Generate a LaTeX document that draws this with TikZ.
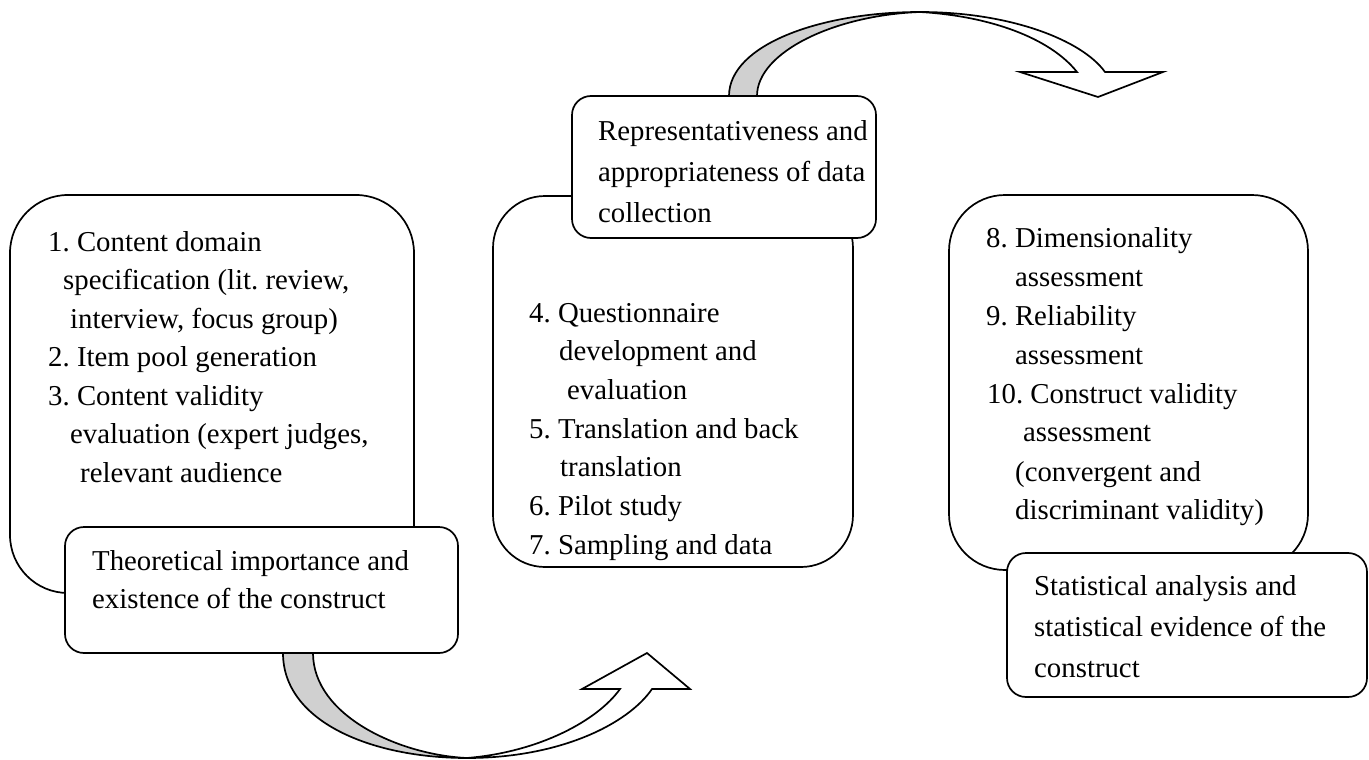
\documentclass[tikz,border=0pt]{standalone}
\usepackage{fontspec}
\setmainfont{Liberation Serif}
\definecolor{bandgray}{RGB}{208,208,208}
% stacked lines with a fixed baseline distance; the block's baseline is its first line
\newcommand\linestack[2]{\vtop{\baselineskip=#1\relax\lineskiplimit=-60pt\lineskip=0pt #2}}
\begin{document}
\frenchspacing
\begin{tikzpicture}[x=1pt,y=-1pt,
  box/.style={draw, line width=1.7pt, fill=white, rectangle, inner sep=0pt},
  bigbox/.style={box, rounded corners=58pt},
  smallbox/.style={box, rounded corners=19pt},
  txt/.style={anchor=base west, inner sep=0pt, font=\fontsize{28.8}{38.6}\selectfont},
  band/.style={draw, line width=1.7pt, fill=bandgray, line join=round},
  arrowbody/.style={draw, line width=1.7pt, fill=white, line join=miter}]

\useasboundingbox (0,0) rectangle (1369,760);

% ---------- stage 1 ----------
\node[bigbox, minimum width=404pt, minimum height=398pt] (stageA) at (212,394) {};
\node[txt] (stageAtext) at (48,251) {\linestack{38.5pt}{%
  \hbox{1. Content domain}%
  \hbox{\hspace*{15pt}specification (lit. review,}%
  \hbox{\hspace*{22pt}interview, focus group)}%
  \hbox{2. Item pool generation}%
  \hbox{3. Content validity}%
  \hbox{\hspace*{22pt}evaluation (expert judges,}%
  \hbox{\hspace*{32pt}relevant audience}}};

\node[smallbox, minimum width=393pt, minimum height=126pt] (theory) at (261.5,590) {};
\node[txt] (theorytext) at (92,570) {\linestack{38.5pt}{%
  \hbox{Theoretical importance and}%
  \hbox{existence of the construct}}};

% curved arrow from stage 1 to stage 2
\coordinate (lowOutL) at (283,653);
\coordinate (lowInL)  at (313,653);
\coordinate (lowBot)  at (467,758);
\coordinate (lowOutR) at (652,689);
\coordinate (lowInR)  at (620,689);
\draw[band] (lowOutL) .. controls (283,722) and (372,758) .. (lowBot)
  .. controls (400,755) and (313,716) .. (lowInL) -- cycle;
\draw[arrowbody] (lowBot) .. controls (560,758) and (628,724) .. (lowOutR)
  -- (690,689) -- (647,653) -- (582,689) -- (lowInR)
  .. controls (598,720) and (540,752) .. (lowBot) -- cycle;

% ---------- stage 2 ----------
\node[bigbox, rounded corners=52pt, minimum width=360pt, minimum height=371pt] (stageB) at (673,381.5) {};
\node[txt] (stageBtext) at (529,322) {\linestack{38.7pt}{%
  \hbox{4. Questionnaire}%
  \hbox{\hspace*{30pt}development and}%
  \hbox{\hspace*{38pt}evaluation}%
  \hbox{5. Translation and back}%
  \hbox{\hspace*{31pt}translation}%
  \hbox{6. Pilot study}%
  \hbox{7. Sampling and data}}};

% curved arrow from stage 2 to stage 3
\coordinate (topOutL) at (729,96);
\coordinate (topInL)  at (757,96);
\coordinate (topTop)  at (920,12);
\coordinate (topOutR) at (1105,72);
\coordinate (topInR)  at (1077,72);
\draw[band] (topOutL) .. controls (729,45) and (820,12) .. (topTop)
  .. controls (835,15) and (757,52) .. (topInL) -- cycle;
\draw[arrowbody] (topTop) .. controls (1010,12) and (1082,40) .. (topOutR)
  -- (1163,72) -- (1098,97) -- (1020,72) -- (topInR)
  .. controls (1050,38) and (990,16) .. (topTop) -- cycle;

\node[smallbox, minimum width=304pt, minimum height=142pt] (represent) at (724,167) {};
\node[txt] (representtext) at (598,140) {\linestack{41pt}{%
  \hbox{Representativeness and}%
  \hbox{appropriateness of data}%
  \hbox{collection}}};

% ---------- stage 3 ----------
\node[bigbox, rounded corners=56pt, minimum width=359pt, minimum height=375pt] (stageC) at (1128.5,382.5) {};
\node[txt] (stageCtext) at (986,247) {\linestack{39pt}{%
  \hbox{8. Dimensionality}%
  \hbox{\hspace*{29pt}assessment}%
  \hbox{9. Reliability}%
  \hbox{\hspace*{29pt}assessment}%
  \hbox{\hspace*{1pt}10. Construct validity}%
  \hbox{\hspace*{37pt}assessment}%
  \hbox{\hspace*{29pt}(convergent and}%
  \hbox{\hspace*{29pt}discriminant validity)}}};

\node[smallbox, minimum width=360pt, minimum height=144pt] (statistics) at (1187,625) {};
\node[txt] (statisticstext) at (1034,595) {\linestack{41pt}{%
  \hbox{Statistical analysis and}%
  \hbox{statistical evidence of the}%
  \hbox{construct}}};

\end{tikzpicture}
\end{document}
